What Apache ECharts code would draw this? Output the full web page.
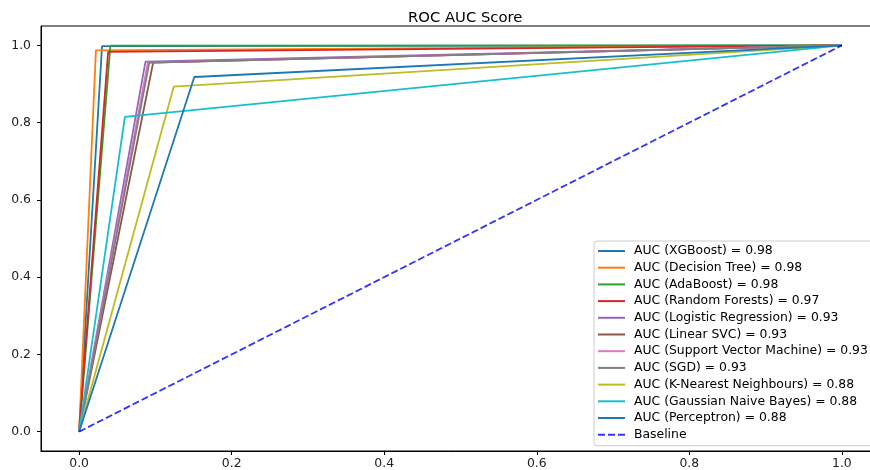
<!DOCTYPE html>
<html>
<head>
<meta charset="utf-8">
<script src="https://cdn.jsdelivr.net/npm/echarts@6/dist/echarts.min.js"></script>
<style>
  html, body { margin: 0; padding: 0; background: #fff; }
  #chart { width: 870px; height: 470px; }
</style>
</head>
<body>
<div id="chart"></div>
<script>
// model names and their AUC as printed in the legend
var models = ['XGBoost', 'Decision Tree', 'AdaBoost', 'Random Forests', 'Logistic Regression',
  'Linear SVC', 'Support Vector Machine', 'SGD', 'K-Nearest Neighbours', 'Gaussian Naive Bayes', 'Perceptron'];
var aucLabels = ['0.98', '0.98', '0.98', '0.97', '0.93', '0.93', '0.93', '0.93', '0.88', '0.88', '0.88'];
// the one middle point of each roc curve
var fpr = [0.030, 0.022, 0.041, 0.038, 0.087, 0.097, 0.090, 0.092, 0.124, 0.060, 0.151];
var tpr = [0.998, 0.987, 0.999, 0.983, 0.958, 0.955, 0.955, 0.955, 0.893, 0.815, 0.918];
var tickValues = [0, 0.2, 0.4, 0.6, 0.8, 1.0];

var colors = ['#1f77b4', '#ff7f0e', '#2ca02c', '#d62728', '#9467bd', '#8c564b',
  '#e377c2', '#7f7f7f', '#bcbd22', '#17becf', '#1f77b4'];
var lw = 1.8;

var series = models.map(function (m, i) {
  return {
    name: 'AUC (' + m + ') = ' + aucLabels[i],
    type: 'line',
    symbol: 'none',
    lineStyle: { width: lw, color: colors[i] },
    itemStyle: { color: colors[i] },
    data: [[0, 0], [fpr[i], tpr[i]], [1, 1]]
  };
});
series.push({
  name: 'Baseline',
  type: 'line',
  symbol: 'none',
  lineStyle: { width: lw, color: 'rgba(0,0,255,0.8)', type: [7, 3] },
  itemStyle: { color: 'rgba(0,0,255,0.8)' },
  data: [[0, 0], [1, 1]]
});

function axis(margin) {
  return {
    type: 'value',
    min: -0.05,
    max: 1.05,
    splitLine: { show: false },
    axisLine: { show: true, onZero: false, lineStyle: { color: '#000', width: 1 } },
    axisTick: { show: true, length: 4, customValues: tickValues, lineStyle: { color: '#000' } },
    axisLabel: {
      customValues: tickValues,
      margin: margin,
      color: '#222',
      fontFamily: 'DejaVu Sans',
      fontSize: 12.4,
      formatter: function (v) { return v.toFixed(1); }
    }
  };
}

var chart = echarts.init(document.getElementById('chart'));
chart.setOption({
  animation: false,
  title: {
    text: 'ROC AUC Score',
    left: 403,
    top: 6,
    textStyle: { fontFamily: 'DejaVu Sans', fontSize: 14.8, fontWeight: 'normal', color: '#000' }
  },
  // the plot box goes on past the right edge of the window, as in the original
  grid: {
    left: 41, top: 26, width: 839, height: 425,
    outerBoundsMode: 'none',
    containLabel: false,
    show: true, borderColor: '#000', borderWidth: 1
  },
  xAxis: axis(7),
  yAxis: axis(10),
  legend: {
    orient: 'vertical',
    left: 594,
    top: 241,
    padding: [3, 6, 4, 3],
    itemWidth: 27,
    itemHeight: 14,
    itemGap: 2.7,
    itemStyle: { opacity: 0 },
    backgroundColor: '#fff',
    borderColor: '#ccc',
    borderWidth: 1,
    borderRadius: 3,
    textStyle: { fontFamily: 'DejaVu Sans', fontSize: 12.4, color: '#000', lineHeight: 14, padding: [0, 0, 0, 4] },
    data: series.map(function (s) { return s.name; })
  },
  series: series
});
</script>
</body>
</html>
